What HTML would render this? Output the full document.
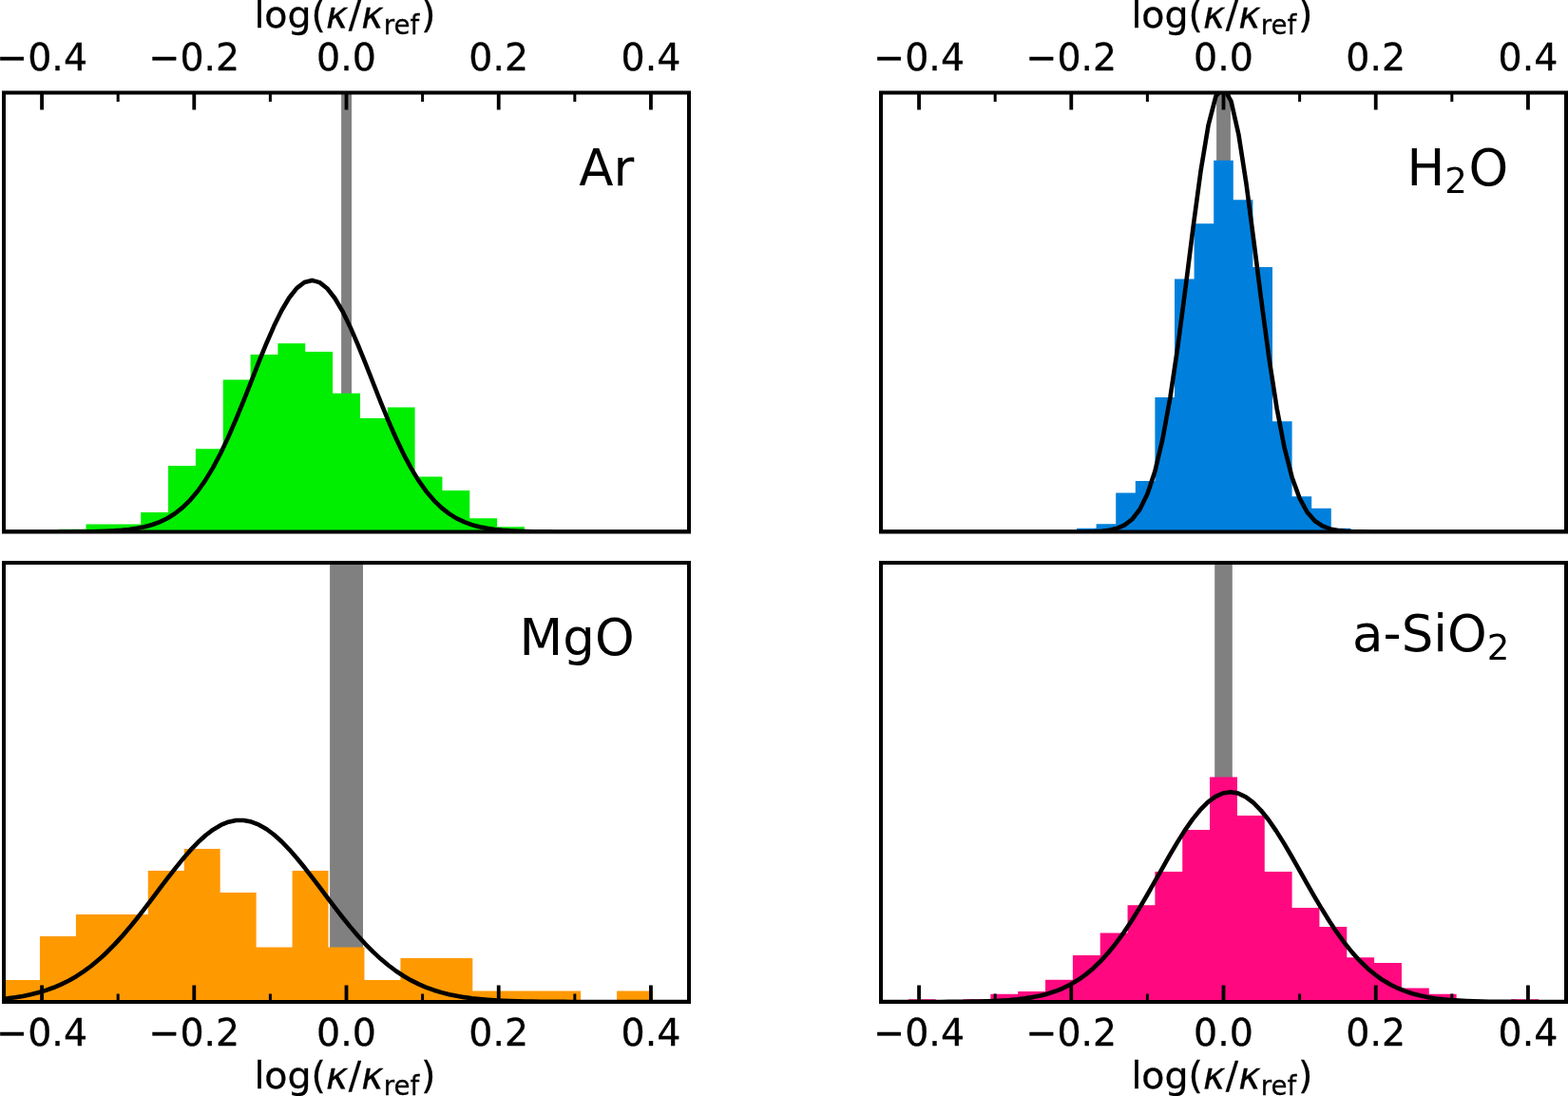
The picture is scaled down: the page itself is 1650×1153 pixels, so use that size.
<!DOCTYPE html>
<html lang="en"><head><meta charset="utf-8"><title>log(κ/κref) histograms</title>
<style>html,body{margin:0;padding:0;background:#fff;}body{width:1650px;height:1153px;overflow:hidden;}svg{display:block;}text{font-family:'DejaVu Sans','Liberation Sans',sans-serif;fill:#000;stroke:#000;stroke-width:0.3px;stroke-linejoin:round;}</style></head><body>
<svg width="1650" height="1153" viewBox="0 0 1650 1153">
<rect x="0" y="0" width="1650" height="1153" fill="#fff"/>
<defs>
<clipPath id="c_ar"><rect x="4" y="97.5" width="721" height="462"/></clipPath>
<clipPath id="c_h2o"><rect x="927" y="97.5" width="721" height="462"/></clipPath>
<clipPath id="c_mgo"><rect x="4" y="592" width="721" height="462"/></clipPath>
<clipPath id="c_sio2"><rect x="927" y="592" width="721" height="462"/></clipPath>
</defs>
<g id="ar">
<g clip-path="url(#c_ar)">
<rect x="359.1" y="97.5" width="10.9" height="462" fill="#808080"/>
<path d="M61.68 559.5V556.8H90.52V559.5ZM90.52 559.5V551.4H119.36V559.5ZM119.36 559.5V551.4H148.2V559.5ZM148.2 559.5V539H177.04V559.5ZM177.04 559.5V490H205.88V559.5ZM205.88 559.5V472.3H234.72V559.5ZM234.72 559.5V399.4H263.56V559.5ZM263.56 559.5V373.1H292.4V559.5ZM292.4 559.5V361.3H321.24V559.5ZM321.24 559.5V370.1H350.08V559.5ZM350.08 559.5V413.7H378.92V559.5ZM378.92 559.5V439.9H407.76V559.5ZM407.76 559.5V428.6H436.6V559.5ZM436.6 559.5V501.4H465.44V559.5ZM465.44 559.5V516.1H494.28V559.5ZM494.28 559.5V545.3H523.12V559.5ZM523.12 559.5V554.3H551.96V559.5ZM551.96 559.5V557.4H580.8V559.5ZM580.8 559.5V558.3H609.64V559.5ZM609.64 559.5V558.3H638.48V559.5Z" fill="#00ee00" shape-rendering="auto"/>
<path d="M-8.12 559.5L-0.11 559.5L7.9 559.5L15.91 559.5L23.92 559.5L31.93 559.5L39.94 559.49L47.95 559.49L55.97 559.48L63.98 559.46L71.99 559.43L80 559.39L88.01 559.32L96.02 559.21L104.03 559.03L112.04 558.77L120.05 558.38L128.06 557.81L136.08 556.99L144.09 555.83L152.1 554.21L160.11 552.01L168.12 549.07L176.13 545.2L184.14 540.21L192.15 533.89L200.16 526.06L208.17 516.53L216.19 505.17L224.2 491.91L232.21 476.77L240.22 459.86L248.23 441.43L256.24 421.83L264.25 401.56L272.26 381.21L280.27 361.47L288.28 343.09L296.3 326.79L304.31 313.29L312.32 303.19L320.33 296.96L328.34 294.9L336.35 297.11L344.36 303.48L352.37 313.71L360.38 327.32L368.39 343.7L376.41 362.14L384.42 381.91L392.43 402.27L400.44 422.53L408.45 442.09L416.46 460.48L424.47 477.33L432.48 492.41L440.49 505.6L448.5 516.89L456.52 526.36L464.53 534.14L472.54 540.4L480.55 545.35L488.56 549.19L496.57 552.1L504.58 554.28L512.59 555.87L520.6 557.02L528.62 557.83L536.63 558.4L544.64 558.78L552.65 559.04L560.66 559.21L568.67 559.32L576.68 559.39L584.69 559.43L592.7 559.46L600.71 559.48L608.73 559.49L616.74 559.49L624.75 559.5L632.76 559.5L640.77 559.5L648.78 559.5L656.79 559.5L664.8 559.5L672.81 559.5L680.82 559.5L688.84 559.5L696.85 559.5L704.86 559.5L712.87 559.5L720.88 559.5L728.89 559.5L736.9 559.5" fill="none" stroke="#000" stroke-width="4.6" stroke-linejoin="round" stroke-linecap="butt"/>
</g>
<path d="M44.06 97.5V115.5M204.28 97.5V115.5M364.5 97.5V115.5M524.72 97.5V115.5M684.94 97.5V115.5" stroke="#000" stroke-width="3.8" fill="none"/>
<path d="M124.17 97.5V107M284.39 97.5V107M444.61 97.5V107M604.83 97.5V107" stroke="#000" stroke-width="3" fill="none"/>
<rect x="4" y="97.5" width="721" height="462" fill="none" stroke="#000" stroke-width="4" stroke-linejoin="miter"/>
<text x="44.06" y="73.9" font-size="39.5" text-anchor="middle">−0.4</text>
<text x="204.28" y="73.9" font-size="39.5" text-anchor="middle">−0.2</text>
<text x="364.5" y="73.9" font-size="39.5" text-anchor="middle">0.0</text>
<text x="524.72" y="73.9" font-size="39.5" text-anchor="middle">0.2</text>
<text x="684.94" y="73.9" font-size="39.5" text-anchor="middle">0.4</text>
<text y="29.3" font-size="39.5"><tspan x="267.4" y="29.3">log(</tspan><tspan x="343" y="29.3" font-style="oblique">κ</tspan><tspan x="366.8" y="29.3">/</tspan><tspan x="380.3" y="29.3" font-style="oblique">κ</tspan><tspan x="403.7" y="36" font-size="27.65">ref</tspan><tspan x="443" y="29.3">)</tspan></text>
<text x="609.30" y="195.10" font-size="53.00" style="stroke-width:0">Ar</text>
</g>
<g id="h2o">
<g clip-path="url(#c_h2o)">
<rect x="1280.1" y="97.5" width="14.8" height="462" fill="#808080"/>
<path d="M1112.4 559.5V558H1133V559.5ZM1133 559.5V555.8H1153.6V559.5ZM1153.6 559.5V551.3H1174.2V559.5ZM1174.2 559.5V518.5H1194.8V559.5ZM1194.8 559.5V506.1H1215.4V559.5ZM1215.4 559.5V417.9H1236V559.5ZM1236 559.5V293.4H1256.6V559.5ZM1256.6 559.5V235.3H1277.2V559.5ZM1277.2 559.5V168.8H1297.8V559.5ZM1297.8 559.5V210.2H1318.4V559.5ZM1318.4 559.5V281H1339V559.5ZM1339 559.5V443.3H1359.6V559.5ZM1359.6 559.5V522.2H1380.2V559.5ZM1380.2 559.5V534.8H1400.8V559.5ZM1400.8 559.5V555.8H1421.4V559.5ZM1421.4 559.5V557.5H1442V559.5Z" fill="#0080dc" shape-rendering="auto"/>
<path d="M926.99 559.5L935 559.5L943.02 559.5L951.03 559.5L959.04 559.5L967.05 559.5L975.06 559.5L983.07 559.5L991.08 559.5L999.09 559.5L1007.1 559.5L1015.12 559.5L1023.13 559.5L1031.14 559.5L1039.15 559.5L1047.16 559.5L1055.17 559.5L1063.18 559.5L1071.19 559.5L1079.2 559.5L1087.21 559.5L1095.22 559.5L1103.24 559.5L1111.25 559.5L1119.26 559.49L1127.27 559.48L1135.28 559.44L1143.29 559.35L1151.3 559.15L1159.31 558.7L1167.32 557.76L1175.34 555.9L1183.35 552.42L1191.36 546.27L1199.37 536L1207.38 519.8L1215.39 495.73L1223.4 462.13L1231.41 418.14L1239.42 364.37L1247.43 303.43L1255.44 240L1263.46 180.48L1271.47 132.02L1279.48 101.11L1287.49 92.16L1295.5 106.5L1303.51 142.03L1311.52 193.71L1319.53 254.77L1327.54 318.15L1335.56 377.75L1343.57 429.38L1351.58 470.93L1359.59 502.18L1367.6 524.23L1375.61 538.87L1383.62 548.02L1391.63 553.43L1399.64 556.45L1407.65 558.04L1415.66 558.84L1423.68 559.21L1431.69 559.38L1439.7 559.45L1447.71 559.48L1455.72 559.49L1463.73 559.5L1471.74 559.5L1479.75 559.5L1487.76 559.5L1495.78 559.5L1503.79 559.5L1511.8 559.5L1519.81 559.5L1527.82 559.5L1535.83 559.5L1543.84 559.5L1551.85 559.5L1559.86 559.5L1567.87 559.5L1575.88 559.5L1583.9 559.5L1591.91 559.5L1599.92 559.5L1607.93 559.5L1615.94 559.5L1623.95 559.5L1631.96 559.5L1639.97 559.5L1647.98 559.5L1656 559.5L1664.01 559.5L1672.02 559.5" fill="none" stroke="#000" stroke-width="4.6" stroke-linejoin="round" stroke-linecap="butt"/>
</g>
<path d="M967.06 97.5V115.5M1127.28 97.5V115.5M1287.5 97.5V115.5M1447.72 97.5V115.5M1607.94 97.5V115.5" stroke="#000" stroke-width="3.8" fill="none"/>
<path d="M1047.17 97.5V107M1207.39 97.5V107M1367.61 97.5V107M1527.83 97.5V107" stroke="#000" stroke-width="3" fill="none"/>
<rect x="927" y="97.5" width="721" height="462" fill="none" stroke="#000" stroke-width="4" stroke-linejoin="miter"/>
<text x="967.06" y="73.9" font-size="39.5" text-anchor="middle">−0.4</text>
<text x="1127.28" y="73.9" font-size="39.5" text-anchor="middle">−0.2</text>
<text x="1287.5" y="73.9" font-size="39.5" text-anchor="middle">0.0</text>
<text x="1447.72" y="73.9" font-size="39.5" text-anchor="middle">0.2</text>
<text x="1607.94" y="73.9" font-size="39.5" text-anchor="middle">0.4</text>
<text y="29.3" font-size="39.5"><tspan x="1190.4" y="29.3">log(</tspan><tspan x="1266" y="29.3" font-style="oblique">κ</tspan><tspan x="1289.8" y="29.3">/</tspan><tspan x="1303.3" y="29.3" font-style="oblique">κ</tspan><tspan x="1326.7" y="36" font-size="27.65">ref</tspan><tspan x="1366" y="29.3">)</tspan></text>
<text y="194.70" font-size="53.00" style="stroke-width:0"><tspan x="1480.60">H</tspan><tspan x="1520.30" y="203.30" font-size="37.10">2</tspan><tspan x="1545.40" y="194.70">O</tspan></text>
</g>
<g id="mgo">
<g clip-path="url(#c_mgo)">
<rect x="347.1" y="592" width="34.9" height="462" fill="#808080"/>
<path d="M4 1054V1031H41.95V1054ZM41.95 1054V985H79.89V1054ZM79.89 1054V962H117.84V1054ZM117.84 1054V962H155.79V1054ZM155.79 1054V916H193.74V1054ZM193.74 1054V893H231.68V1054ZM231.68 1054V939H269.63V1054ZM269.63 1054V996.5H307.58V1054ZM307.58 1054V916H345.53V1054ZM345.53 1054V996.5H383.47V1054ZM383.47 1054V1031H421.42V1054ZM421.42 1054V1008H459.37V1054ZM459.37 1054V1008H497.32V1054ZM497.32 1054V1042.5H535.26V1054ZM535.26 1054V1042.5H573.21V1054ZM573.21 1054V1042.5H611.16V1054ZM649.11 1054V1042.5H687.05V1054Z" fill="#ff9900" shape-rendering="auto"/>
<path d="M-15.91 1052.36L-7.9 1051.83L0.11 1051.16L8.12 1050.31L16.13 1049.24L24.14 1047.91L32.15 1046.28L40.16 1044.29L48.17 1041.9L56.19 1039.04L64.2 1035.67L72.21 1031.72L80.22 1027.15L88.23 1021.92L96.24 1015.99L104.25 1009.35L112.26 1001.98L120.27 993.91L128.28 985.17L136.3 975.83L144.31 965.97L152.32 955.69L160.33 945.15L168.34 934.49L176.35 923.89L184.36 913.55L192.37 903.66L200.38 894.43L208.39 886.07L216.41 878.75L224.42 872.66L232.43 867.94L240.44 864.7L248.45 863.03L256.46 862.97L264.47 864.52L272.48 867.65L280.49 872.26L288.5 878.26L296.52 885.49L304.53 893.79L312.54 902.96L320.55 912.8L328.56 923.12L336.57 933.71L344.58 944.37L352.59 954.93L360.6 965.22L368.62 975.12L376.63 984.5L384.64 993.29L392.65 1001.41L400.66 1008.83L408.67 1015.53L416.68 1021.51L424.69 1026.79L432.7 1031.41L440.71 1035.4L448.73 1038.81L456.74 1041.71L464.75 1044.13L472.76 1046.15L480.77 1047.8L488.78 1049.15L496.79 1050.24L504.8 1051.1L512.81 1051.79L520.82 1052.33L528.84 1052.75L536.85 1053.07L544.86 1053.31L552.87 1053.5L560.88 1053.64L568.89 1053.74L576.9 1053.81L584.91 1053.87L592.92 1053.91L600.93 1053.94L608.95 1053.96L616.96 1053.97L624.97 1053.98L632.98 1053.99L640.99 1053.99L649 1053.99L657.01 1054L665.02 1054L673.03 1054L681.04 1054L689.06 1054L697.07 1054L705.08 1054L713.09 1054L721.1 1054L729.11 1054" fill="none" stroke="#000" stroke-width="4.6" stroke-linejoin="round" stroke-linecap="butt"/>
</g>
<path d="M44.06 1054V1036.4M204.28 1054V1036.4M364.5 1054V1036.4M524.72 1054V1036.4M684.94 1054V1036.4" stroke="#000" stroke-width="3.8" fill="none"/>
<path d="M124.17 1054V1045.4M284.39 1054V1045.4M444.61 1054V1045.4M604.83 1054V1045.4" stroke="#000" stroke-width="3" fill="none"/>
<rect x="4" y="592" width="721" height="462" fill="none" stroke="#000" stroke-width="4" stroke-linejoin="miter"/>
<text x="44.06" y="1099.5" font-size="39.5" text-anchor="middle">−0.4</text>
<text x="204.28" y="1099.5" font-size="39.5" text-anchor="middle">−0.2</text>
<text x="364.5" y="1099.5" font-size="39.5" text-anchor="middle">0.0</text>
<text x="524.72" y="1099.5" font-size="39.5" text-anchor="middle">0.2</text>
<text x="684.94" y="1099.5" font-size="39.5" text-anchor="middle">0.4</text>
<text y="1145" font-size="39.5"><tspan x="267.4" y="1145">log(</tspan><tspan x="343" y="1145" font-style="oblique">κ</tspan><tspan x="366.8" y="1145">/</tspan><tspan x="380.3" y="1145" font-style="oblique">κ</tspan><tspan x="403.7" y="1151.7" font-size="27.65">ref</tspan><tspan x="443" y="1145">)</tspan></text>
<text x="546.60" y="689.05" font-size="53.00" style="stroke-width:0">MgO</text>
</g>
<g id="sio2">
<g clip-path="url(#c_sio2)">
<rect x="1278.2" y="592" width="18.6" height="462" fill="#808080"/>
<path d="M955.84 1054V1051.3H984.68V1054ZM1013.52 1054V1051.3H1042.36V1054ZM1042.36 1054V1045.8H1071.2V1054ZM1071.2 1054V1042.9H1100.04V1054ZM1100.04 1054V1030.8H1128.88V1054ZM1128.88 1054V1005H1157.72V1054ZM1157.72 1054V981.6H1186.56V1054ZM1186.56 1054V952.2H1215.4V1054ZM1215.4 1054V917H1244.24V1054ZM1244.24 1054V872.9H1273.08V1054ZM1273.08 1054V817.6H1301.92V1054ZM1301.92 1054V858H1330.76V1054ZM1330.76 1054V917H1359.6V1054ZM1359.6 1054V955H1388.44V1054ZM1388.44 1054V975H1417.28V1054ZM1417.28 1054V1007.3H1446.12V1054ZM1446.12 1054V1013.1H1474.96V1054ZM1474.96 1054V1039.6H1503.8V1054ZM1503.8 1054V1045.7H1532.64V1054ZM1532.64 1054V1051.9H1561.48V1054ZM1590.32 1054V1051.2H1619.16V1054Z" fill="#ff0880" shape-rendering="auto"/>
<path d="M918.33 1054L926.34 1054L934.35 1054L942.37 1054L950.38 1053.99L958.39 1053.99L966.4 1053.98L974.41 1053.97L982.42 1053.96L990.43 1053.94L998.44 1053.9L1006.45 1053.85L1014.46 1053.78L1022.48 1053.67L1030.49 1053.52L1038.5 1053.31L1046.51 1053.02L1054.52 1052.62L1062.53 1052.07L1070.54 1051.34L1078.55 1050.37L1086.56 1049.11L1094.57 1047.48L1102.59 1045.41L1110.6 1042.8L1118.61 1039.56L1126.62 1035.6L1134.63 1030.82L1142.64 1025.12L1150.65 1018.42L1158.66 1010.65L1166.67 1001.79L1174.68 991.82L1182.7 980.78L1190.71 968.74L1198.72 955.84L1206.73 942.26L1214.74 928.22L1222.75 914.02L1230.76 899.95L1238.77 886.38L1246.78 873.65L1254.79 862.14L1262.81 852.19L1270.82 844.1L1278.83 838.14L1286.84 834.5L1294.85 833.3L1302.86 834.59L1310.87 838.32L1318.88 844.36L1326.89 852.53L1334.9 862.55L1342.92 874.11L1350.93 886.87L1358.94 900.47L1366.95 914.55L1374.96 928.76L1382.97 942.78L1390.98 956.34L1398.99 969.21L1407 981.21L1415.01 992.21L1423.03 1002.14L1431.04 1010.96L1439.05 1018.69L1447.06 1025.35L1455.07 1031.01L1463.08 1035.77L1471.09 1039.7L1479.1 1042.91L1487.11 1045.49L1495.12 1047.55L1503.14 1049.17L1511.15 1050.42L1519.16 1051.37L1527.17 1052.1L1535.18 1052.64L1543.19 1053.03L1551.2 1053.32L1559.21 1053.53L1567.22 1053.68L1575.23 1053.78L1583.25 1053.85L1591.26 1053.9L1599.27 1053.94L1607.28 1053.96L1615.29 1053.97L1623.3 1053.98L1631.31 1053.99L1639.32 1053.99L1647.33 1054L1655.35 1054L1663.36 1054" fill="none" stroke="#000" stroke-width="4.6" stroke-linejoin="round" stroke-linecap="butt"/>
</g>
<path d="M967.06 1054V1036.4M1127.28 1054V1036.4M1287.5 1054V1036.4M1447.72 1054V1036.4M1607.94 1054V1036.4" stroke="#000" stroke-width="3.8" fill="none"/>
<path d="M1047.17 1054V1045.4M1207.39 1054V1045.4M1367.61 1054V1045.4M1527.83 1054V1045.4" stroke="#000" stroke-width="3" fill="none"/>
<rect x="927" y="592" width="721" height="462" fill="none" stroke="#000" stroke-width="4" stroke-linejoin="miter"/>
<text x="967.06" y="1099.5" font-size="39.5" text-anchor="middle">−0.4</text>
<text x="1127.28" y="1099.5" font-size="39.5" text-anchor="middle">−0.2</text>
<text x="1287.5" y="1099.5" font-size="39.5" text-anchor="middle">0.0</text>
<text x="1447.72" y="1099.5" font-size="39.5" text-anchor="middle">0.2</text>
<text x="1607.94" y="1099.5" font-size="39.5" text-anchor="middle">0.4</text>
<text y="1145" font-size="39.5"><tspan x="1190.4" y="1145">log(</tspan><tspan x="1266" y="1145" font-style="oblique">κ</tspan><tspan x="1289.8" y="1145">/</tspan><tspan x="1303.3" y="1145" font-style="oblique">κ</tspan><tspan x="1326.7" y="1151.7" font-size="27.65">ref</tspan><tspan x="1366" y="1145">)</tspan></text>
<text y="685.30" font-size="53.00" style="stroke-width:0"><tspan x="1423.10">a-SiO</tspan><tspan x="1564.80" y="693.90" font-size="37.10">2</tspan></text>
</g>
</svg></body></html>
